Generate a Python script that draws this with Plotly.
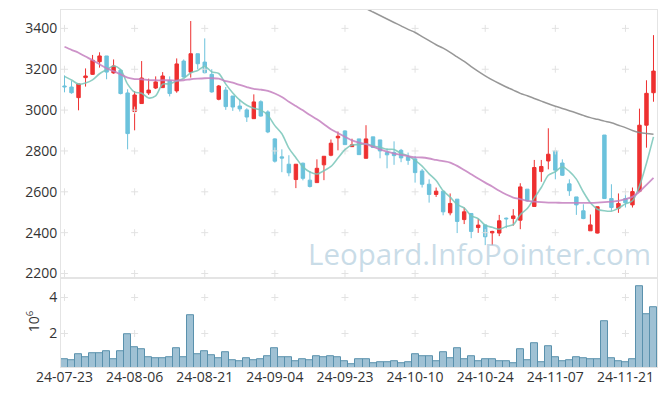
import plotly.graph_objects as go

dates = [
    "24-07-23", "24-07-24", "24-07-25", "24-07-26", "24-07-29", "24-07-30", "24-07-31",
    "24-08-01", "24-08-02", "24-08-05", "24-08-06", "24-08-07", "24-08-08", "24-08-09",
    "24-08-12", "24-08-13", "24-08-14", "24-08-16", "24-08-19", "24-08-20", "24-08-21",
    "24-08-22", "24-08-23", "24-08-26", "24-08-27", "24-08-28", "24-08-29", "24-08-30",
    "24-09-02", "24-09-03", "24-09-04", "24-09-05", "24-09-06", "24-09-09", "24-09-10",
    "24-09-11", "24-09-12", "24-09-13", "24-09-19", "24-09-20", "24-09-23", "24-09-24",
    "24-09-25", "24-09-26", "24-09-27", "24-09-30", "24-10-02", "24-10-04", "24-10-07",
    "24-10-08", "24-10-10", "24-10-11", "24-10-14", "24-10-15", "24-10-16", "24-10-17",
    "24-10-18", "24-10-21", "24-10-22", "24-10-23", "24-10-24", "24-10-25", "24-10-28",
    "24-10-29", "24-10-30", "24-10-31", "24-11-01", "24-11-04", "24-11-05", "24-11-06",
    "24-11-07", "24-11-08", "24-11-11", "24-11-12", "24-11-13", "24-11-14", "24-11-15",
    "24-11-18", "24-11-19", "24-11-20", "24-11-21", "24-11-22", "24-11-25", "24-11-26",
    "24-11-27",
]

opens = [3118, 3113, 3061, 3159, 3175, 3237, 3265, 3182, 3195, 3084,
         2993, 3032, 3084, 3108, 3110, 3144, 3094, 3240, 3186, 3276,
         3235, 3175, 3053, 3098, 3069, 3020, 3001, 2958, 3041, 2991,
         2859, 2771, 2735, 2660, 2740, 2657, 2645, 2732, 2779, 2864,
         2898, 2821, 2859, 2764, 2869, 2854, 2792, 2793, 2803, 2771,
         2761, 2702, 2637, 2587, 2603, 2497, 2564, 2464, 2494, 2425,
         2438, 2399, 2398, 2471, 2469, 2461, 2613, 2528, 2699, 2751,
         2800, 2741, 2639, 2575, 2507, 2409, 2398, 2878, 2567, 2520,
         2567, 2536, 2603, 2926, 3085]
highs = [3170, 3142, 3128, 3204, 3270, 3283, 3265, 3248, 3200, 3102,
         3093, 3240, 3154, 3165, 3186, 3165, 3253, 3248, 3436, 3276,
         3351, 3200, 3123, 3113, 3069, 3052, 3009, 3077, 3048, 2999,
         2862, 2808, 2779, 2735, 2743, 2702, 2759, 2774, 2856, 2895,
         2901, 2860, 2859, 2926, 2869, 2854, 2812, 2847, 2810, 2792,
         2776, 2712, 2661, 2621, 2603, 2592, 2564, 2523, 2495, 2468,
         2438, 2409, 2487, 2474, 2515, 2642, 2613, 2756, 2756, 2911,
         2800, 2759, 2661, 2575, 2539, 2489, 2527, 2878, 2637, 2592,
         2592, 2621, 3007, 3146, 3367]
lows = [3087, 3080, 2999, 3115, 3172, 3208, 3151, 3178, 3077, 2808,
        2901, 3032, 3074, 3103, 3108, 3067, 3085, 3159, 3159, 3200,
        3180, 3085, 3048, 3001, 2996, 2993, 2942, 2958, 2968, 2887,
        2743, 2696, 2676, 2618, 2656, 2621, 2644, 2657, 2774, 2803,
        2831, 2820, 2782, 2764, 2814, 2764, 2715, 2732, 2745, 2732,
        2645, 2621, 2547, 2575, 2485, 2485, 2398, 2442, 2373, 2399,
        2339, 2339, 2383, 2422, 2434, 2417, 2552, 2528, 2649, 2710,
        2661, 2678, 2580, 2487, 2466, 2409, 2396, 2567, 2507, 2497,
        2523, 2523, 2603, 2816, 3041]
closes = [3114, 3085, 3128, 3167, 3244, 3265, 3186, 3216, 3081, 2885,
          3074, 3157, 3098, 3138, 3167, 3081, 3226, 3162, 3276, 3227,
          3183, 3089, 3118, 3017, 3015, 3006, 2966, 3040, 2971, 2893,
          2750, 2765, 2693, 2735, 2666, 2626, 2715, 2774, 2838, 2872,
          2831, 2830, 2782, 2859, 2817, 2800, 2781, 2777, 2766, 2754,
          2694, 2637, 2587, 2603, 2502, 2543, 2455, 2502, 2406, 2437,
          2380, 2406, 2458, 2468, 2482, 2624, 2556, 2719, 2724, 2784,
          2706, 2681, 2605, 2536, 2469, 2438, 2527, 2567, 2523, 2543,
          2546, 2601, 2926, 3082, 3191]

# volume in millions
volumes = [0.55, 0.50, 0.85, 0.67, 0.89, 0.89, 1.00, 0.55, 1.00, 1.94,
           1.22, 1.11, 0.67, 0.61, 0.61, 0.67, 1.17, 0.67, 3.00, 0.83,
           1.00, 0.78, 0.61, 0.94, 0.50, 0.44, 0.61, 0.50, 0.55, 0.72,
           1.17, 0.67, 0.67, 0.44, 0.55, 0.50, 0.72, 0.67, 0.72, 0.67,
           0.44, 0.28, 0.55, 0.55, 0.33, 0.39, 0.39, 0.44, 0.33, 0.39,
           0.83, 0.72, 0.72, 0.44, 0.94, 0.61, 1.17, 0.55, 0.72, 0.44,
           0.55, 0.55, 0.44, 0.44, 0.33, 1.11, 0.50, 1.44, 0.39, 1.28,
           0.67, 0.44, 0.50, 0.67, 0.61, 0.55, 0.55, 2.67, 0.61, 0.44,
           0.39, 0.55, 4.61, 3.06, 3.44]

ma5 = [3165, 3147, 3127, 3133, 3148, 3178, 3198, 3216, 3198, 3127,
       3088, 3083, 3059, 3070, 3127, 3128, 3142, 3155, 3182, 3194,
       3215, 3187, 3179, 3127, 3084, 3049, 3024, 3009, 3000, 2975,
       2924, 2884, 2814, 2767, 2722, 2697, 2687, 2703, 2724, 2765,
       2806, 2829, 2831, 2835, 2824, 2818, 2808, 2807, 2788, 2776,
       2754, 2726, 2688, 2655, 2605, 2574, 2538, 2521, 2482, 2469,
       2436, 2426, 2417, 2430, 2439, 2488, 2518, 2570, 2621, 2681,
       2698, 2723, 2700, 2662, 2599, 2546, 2515, 2507, 2505, 2520,
       2541, 2556, 2628, 2740, 2869]
ma20 = [3310, 3295, 3281, 3262, 3244, 3224, 3204, 3191, 3175, 3159,
        3152, 3151, 3147, 3146, 3146, 3146, 3144, 3146, 3151, 3154,
        3156, 3156, 3154, 3142, 3134, 3123, 3113, 3104, 3100, 3094,
        3081, 3064, 3041, 3020, 2999, 2976, 2955, 2931, 2906, 2888,
        2869, 2852, 2841, 2833, 2821, 2808, 2797, 2787, 2781, 2774,
        2769, 2768, 2763, 2756, 2750, 2743, 2727, 2707, 2686, 2665,
        2645, 2626, 2605, 2587, 2572, 2564, 2556, 2552, 2549, 2547,
        2547, 2546, 2546, 2546, 2546, 2546, 2547, 2549, 2552, 2556,
        2564, 2575, 2600, 2634, 2668]
ma60 = [None] * 42 + [
        3513, 3497, 3480, 3463, 3446, 3429, 3412, 3395,
        3380, 3360, 3340, 3320, 3303, 3283, 3260, 3238, 3213, 3190,
        3168, 3148, 3130, 3113, 3098, 3082, 3070, 3057, 3044, 3031,
        3019, 3008, 2997, 2986, 2974, 2963, 2955, 2946, 2938, 2926,
        2914, 2900, 2890, 2885, 2882]

price_ticks = [2200, 2400, 2600, 2800, 3000, 3200, 3400]
vol_ticks = [2, 4]
tick_dates = ["24-07-23", "24-08-06", "24-08-21", "24-09-04", "24-09-23",
              "24-10-10", "24-10-24", "24-11-07", "24-11-21"]

RED = "#ee3030"
BLUE = "#6cc2dc"
FRAME = "#e4e4e4"
FONT = "Open Sans"

fig = go.Figure()

# grid crosses at tick intersections
fig.add_trace(go.Scatter(
    x=[d for d in tick_dates for _ in price_ticks],
    y=[p for _ in tick_dates for p in price_ticks],
    mode="markers", xaxis="x", yaxis="y", hoverinfo="skip", showlegend=False,
    marker=dict(symbol="cross-thin", size=5, line=dict(width=1, color="#e2e2e2")),
))
fig.add_trace(go.Scatter(
    x=[d for d in tick_dates for _ in vol_ticks],
    y=[v for _ in tick_dates for v in vol_ticks],
    mode="markers", xaxis="x2", yaxis="y2", hoverinfo="skip", showlegend=False,
    marker=dict(symbol="cross-thin", size=5, line=dict(width=1, color="#e2e2e2")),
))

fig.add_trace(go.Candlestick(
    x=dates, open=opens, high=highs, low=lows, close=closes,
    xaxis="x", yaxis="y", showlegend=False, whiskerwidth=0,
    increasing=dict(line=dict(color=RED, width=1), fillcolor=RED),
    decreasing=dict(line=dict(color=BLUE, width=1), fillcolor=BLUE),
))

fig.add_trace(go.Scatter(x=dates, y=ma5, mode="lines", xaxis="x", yaxis="y",
                         line=dict(color="rgba(120,198,185,0.85)", width=1.6, shape="spline", smoothing=0.8),
                         showlegend=False, hoverinfo="skip"))
fig.add_trace(go.Scatter(x=dates, y=ma20, mode="lines", xaxis="x", yaxis="y",
                         line=dict(color="rgba(196,128,192,0.85)", width=1.8, shape="spline", smoothing=0.8),
                         showlegend=False, hoverinfo="skip"))
fig.add_trace(go.Scatter(x=dates, y=ma60, mode="lines", xaxis="x", yaxis="y",
                         line=dict(color="rgba(140,140,140,0.9)", width=1.5, shape="spline", smoothing=0.8),
                         showlegend=False, hoverinfo="skip", connectgaps=False))

fig.add_trace(go.Bar(
    x=dates, y=volumes, xaxis="x2", yaxis="y2", showlegend=False, width=1,
    marker=dict(color="rgba(100,155,185,0.62)", line=dict(color="#5a91ad", width=1)),
))

dom_split = 0.2487
fig.update_layout(
    width=665, height=396,
    margin=dict(l=61, r=8, t=10, b=29),
    paper_bgcolor="white", plot_bgcolor="white",
    font=dict(family=FONT, color="#333333", size=14),
    bargap=0,
    xaxis=dict(domain=[0, 1], anchor="y", type="category",
               categoryorder="array", categoryarray=dates,
               range=[-0.5, 84.5], showticklabels=False, showgrid=False,
               showline=True, mirror=True, linecolor=FRAME, linewidth=1,
               rangeslider=dict(visible=False), ticks=""),
    yaxis=dict(domain=[dom_split, 1], anchor="x", range=[2177, 3490],
               tickvals=price_ticks, showgrid=False, zeroline=False,
               showline=True, mirror=True, linecolor=FRAME, linewidth=1,
               ticks="", tickfont=dict(size=14, color="#333333")),
    xaxis2=dict(domain=[0, 1], anchor="y2", type="category", matches="x",
                categoryorder="array", categoryarray=dates,
                tickvals=tick_dates, ticktext=tick_dates, showgrid=False,
                showline=True, mirror=True, linecolor=FRAME, linewidth=1,
                ticks="", ticklabelstandoff=-3,
                tickfont=dict(size=14, color="#333333")),
    yaxis2=dict(domain=[0, dom_split], anchor="x2", range=[0.14, 5.07],
                tickvals=vol_ticks, showgrid=False, zeroline=False,
                showline=True, mirror=True, linecolor=FRAME, linewidth=1,
                ticks="", tickfont=dict(size=14, color="#333333")),
    annotations=[
        dict(text="Leopard.InfoPointer.com", xref="paper", yref="paper",
             x=0.702, y=0.319, xanchor="center", yanchor="middle", showarrow=False,
             font=dict(family=FONT, size=29.5, color="rgba(165,197,216,0.6)")),
        dict(text="10<sup>6</sup>", xref="paper", yref="paper",
             x=-0.047, y=0.128, xanchor="center", yanchor="middle", showarrow=False,
             textangle=-90, font=dict(family=FONT, size=14, color="#333333")),
    ],
)

fig.write_html("out.html", config={"displayModeBar": False},
               post_script="document.body.style.margin='0';document.body.style.padding='0';")
